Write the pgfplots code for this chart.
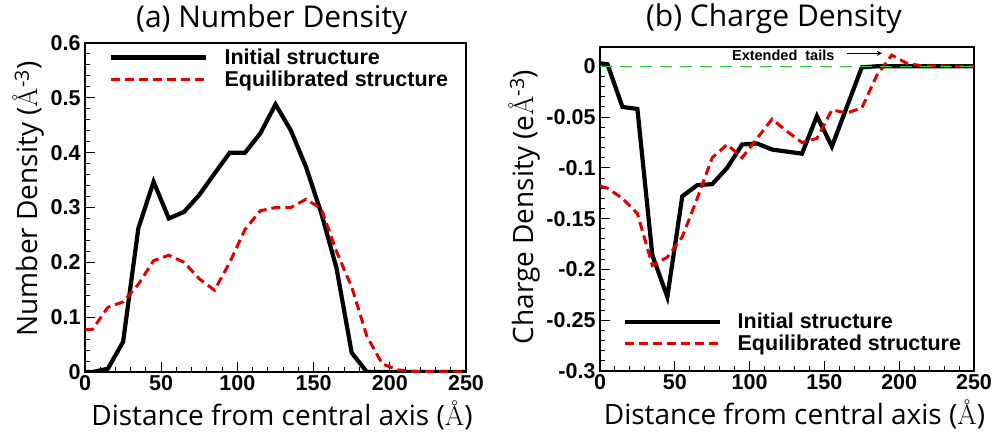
\documentclass[border=0pt]{standalone}
\usepackage{pgfplots}
\pgfplotsset{compat=1.18}
\usepackage{fontspec}
\newfontfamily\osans{Open Sans}
\newfontfamily\asans{Liberation Sans}
\definecolor{myred}{RGB}{225,0,0}
\definecolor{mygreen}{RGB}{40,200,40}
\begin{document}
\begin{tikzpicture}
\useasboundingbox (0pt,0pt) rectangle (995pt,431pt);
\pgfplotsset{
 common/.style={
  scale only axis, anchor=south west,
  xmin=0,xmax=250, xtick={0,50,100,150,200,250}, minor x tick num=4,
  xtick pos=bottom, ytick pos=left, tick align=inside,
  major tick length=10pt, minor tick length=5pt,
  axis line style={line width=1.3pt},
  every tick/.style={black, line width=1pt},
  /pgf/number format/assume math mode=true,
  /pgf/number format/fixed, /pgf/number format/precision=2,
  scaled y ticks=false, scaled x ticks=false,
  ticklabel style={font=\asans\bfseries\fontsize{21.5}{21.5}\selectfont},
  yticklabel style={xshift=-1pt},
  label style={font=\osans\fontsize{28}{28}\selectfont},
  title style={font=\osans\fontsize{30}{30}\selectfont, anchor=base},
  legend cell align=left,
  legend style={draw=none, fill=none, inner sep=0pt, outer sep=0pt,
    font=\asans\bfseries\fontsize{21.5}{22}\selectfont,
    nodes={inner sep=0pt, outer sep=0pt}, row sep=5pt,
    legend image code/.code={\draw[##1] (0pt,0pt) -- (95pt,0pt); \path (111pt,0pt);}},
 },
 blk/.style={black, line width=4.2pt, line join=miter},
 rdd/.style={myred, line width=3pt, dash pattern=on 9pt off 5pt},
}
% ---------------- (a) ----------------
\begin{axis}[common, at={(85pt,59pt)}, width=381pt, height=329pt,
  ymin=0, ymax=0.6, ytick={0,0.1,0.2,0.3,0.4,0.5,0.6}, minor y tick num=4,
  title={(a) Number Density},
  title style={at={(axis description cs:0.49,1)}, yshift=10pt},
  xlabel={Distance from central axis ({\rmfamily Å})},
  xlabel style={at={(axis description cs:0.517,0)}, anchor=base, yshift=-53pt},
  ylabel={Number Density ({\rmfamily Å}\textsuperscript{-3})},
  ylabel style={at={(axis description cs:-0.1234,0.526)}, anchor=base},
  legend style={at={(axis description cs:0.064,0.982)}, anchor=north west},
]
\addplot[blk] coordinates {
(0,0) (5,0) (15,0.006) (25,0.055) (35,0.262) (45,0.347) (55,0.28) (65,0.292)
(75,0.323) (85,0.362) (95,0.40) (105,0.40) (115,0.435) (125,0.488) (135,0.441)
(145,0.374) (155,0.29) (165,0.19) (175,0.035) (185,0) (200,0) (250,0)};
\addlegendentry{Initial structure}
\addplot[rdd] coordinates {
(0,0.077) (5,0.078) (15,0.118) (25,0.128) (35,0.16) (45,0.203) (55,0.213)
(65,0.20) (75,0.17) (85,0.149) (95,0.2) (105,0.26) (115,0.294) (125,0.30)
(135,0.30) (145,0.315) (155,0.298) (165,0.22) (175,0.155) (185,0.065)
(195,0.015) (205,0.004) (215,0.001) (250,0)};
\addlegendentry{Equilibrated structure}
\end{axis}
% ---------------- (b) ----------------
\begin{axis}[common, at={(600pt,60pt)}, width=374pt, height=324pt,
  ymin=-0.3, ymax=0.019, ytick={-0.3,-0.25,-0.2,-0.15,-0.1,-0.05,0}, minor y tick num=4,
  title={(b) Charge Density},
  title style={at={(axis description cs:0.465,1)}, yshift=14pt},
  xlabel={Distance from central axis ({\rmfamily Å})},
  xlabel style={at={(axis description cs:0.52,0)}, anchor=base, yshift=-53pt},
  ylabel={Charge Density (e{\rmfamily Å}\textsuperscript{-3})},
  ylabel style={at={(axis description cs:-0.179,0.506)}, anchor=base},
  legend style={at={(axis description cs:0.06,0.178)}, anchor=north west},
]
\addplot[blk] coordinates {
(0,0.003) (5,0.002) (15,-0.04) (25,-0.042) (35,-0.186) (45,-0.227) (55,-0.128)
(65,-0.117) (75,-0.116) (85,-0.10) (95,-0.077) (105,-0.076) (115,-0.082)
(135,-0.086) (145,-0.049) (155,-0.079) (165,-0.04) (175,-0.001) (185,0) (250,0)};
\addlegendentry{Initial structure}
\addplot[rdd] coordinates {
(0,-0.118) (5,-0.12) (15,-0.13) (25,-0.145) (35,-0.196) (45,-0.188) (55,-0.168)
(65,-0.13) (75,-0.09) (85,-0.077) (95,-0.09) (105,-0.071) (115,-0.052)
(125,-0.064) (135,-0.075) (145,-0.071) (155,-0.043) (165,-0.046) (175,-0.041)
(185,-0.009) (195,0.011) (205,0.003) (215,0.0005) (250,0)};
\addlegendentry{Equilibrated structure}
\addplot[mygreen, line width=1.3pt, dash pattern=on 12pt off 8pt, forget plot] coordinates {(0,0) (250,0)};
\node[anchor=base, font=\asans\bfseries\fontsize{14.5}{14.5}\selectfont] at (axis cs:122.5,0.0055) {Extended\ \ tails};
\draw[-stealth, line width=1.3pt] (axis cs:165,0.0128) -- (axis cs:188.5,0.0128);
\end{axis}
\end{tikzpicture}
\end{document}
